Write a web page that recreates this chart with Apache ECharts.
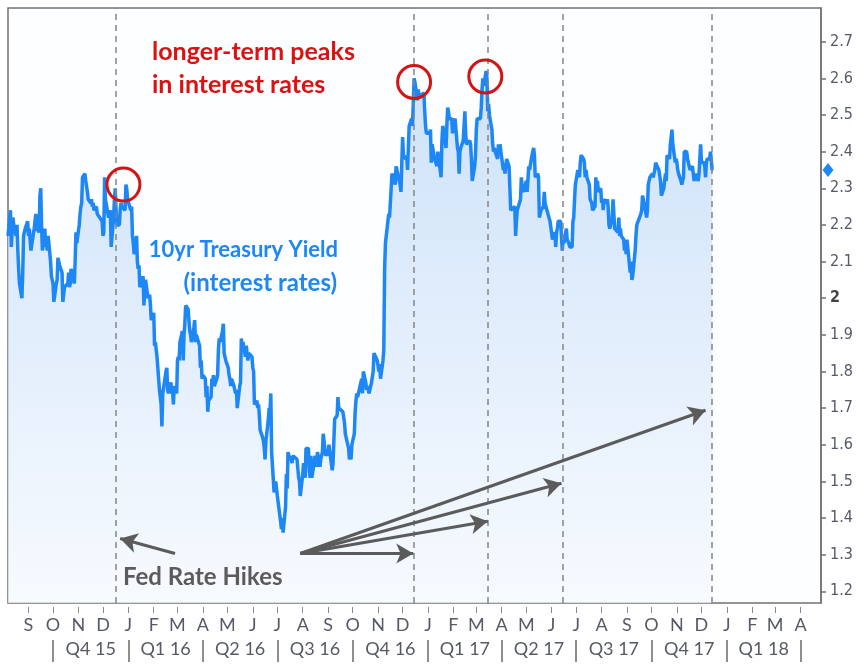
<!DOCTYPE html>
<html>
<head>
<meta charset="utf-8">
<script src="https://cdn.jsdelivr.net/npm/echarts@6/dist/echarts.min.js"></script>
<style>
html, body { margin: 0; padding: 0; background: #fff; }
#main { width: 861px; height: 664px; }
</style>
</head>
<body>
<div id="main"></div>
<script>
// 10yr Treasury yield
var tenYear = [
    ['2015-08-07',2.17],['2015-08-10',2.24],['2015-08-11',2.14],['2015-08-12',2.14],['2015-08-13',2.22],['2015-08-14',2.20],
    ['2015-08-17',2.17],['2015-08-18',2.20],['2015-08-19',2.13],['2015-08-20',2.08],['2015-08-21',2.04],['2015-08-24',2.00],
    ['2015-08-25',2.07],['2015-08-26',2.17],['2015-08-27',2.18],['2015-08-28',2.19],['2015-08-31',2.21],
    ['2015-09-01',2.17],['2015-09-02',2.19],['2015-09-03',2.16],['2015-09-04',2.13],['2015-09-08',2.19],['2015-09-09',2.21],
    ['2015-09-10',2.23],['2015-09-11',2.19],['2015-09-14',2.18],['2015-09-15',2.28],['2015-09-16',2.30],['2015-09-17',2.20],
    ['2015-09-18',2.13],['2015-09-21',2.19],['2015-09-22',2.14],['2015-09-23',2.15],['2015-09-24',2.13],['2015-09-25',2.17],
    ['2015-09-28',2.10],['2015-09-29',2.06],['2015-09-30',2.05],
    ['2015-10-01',2.04],['2015-10-02',1.99],['2015-10-05',2.04],['2015-10-06',2.05],['2015-10-07',2.11],['2015-10-08',2.11],
    ['2015-10-09',2.09],['2015-10-12',2.07],['2015-10-13',1.99],['2015-10-14',1.99],['2015-10-15',2.03],['2015-10-16',2.03],
    ['2015-10-19',2.04],['2015-10-20',2.07],['2015-10-21',2.03],['2015-10-22',2.04],['2015-10-23',2.08],['2015-10-26',2.05],
    ['2015-10-27',2.04],['2015-10-28',2.10],['2015-10-29',2.18],['2015-10-30',2.15],
    ['2015-11-02',2.20],['2015-11-03',2.23],['2015-11-04',2.25],['2015-11-05',2.26],['2015-11-06',2.33],['2015-11-09',2.34],
    ['2015-11-10',2.32],['2015-11-12',2.29],['2015-11-13',2.27],['2015-11-16',2.26],['2015-11-17',2.27],['2015-11-18',2.25],
    ['2015-11-19',2.26],['2015-11-20',2.24],['2015-11-23',2.25],['2015-11-24',2.23],['2015-11-25',2.23],['2015-11-27',2.22],
    ['2015-11-30',2.21],
    ['2015-12-01',2.17],['2015-12-02',2.18],['2015-12-03',2.33],['2015-12-04',2.27],['2015-12-07',2.23],['2015-12-08',2.22],
    ['2015-12-09',2.22],['2015-12-10',2.24],['2015-12-11',2.14],['2015-12-14',2.22],['2015-12-15',2.27],['2015-12-16',2.30],
    ['2015-12-17',2.24],['2015-12-18',2.20],['2015-12-21',2.20],['2015-12-22',2.24],['2015-12-23',2.26],['2015-12-24',2.25],
    ['2015-12-28',2.24],['2015-12-29',2.31],['2015-12-30',2.30],['2015-12-31',2.27],
    ['2016-01-04',2.24],['2016-01-05',2.25],['2016-01-06',2.17],['2016-01-07',2.15],['2016-01-08',2.12],['2016-01-11',2.17],
    ['2016-01-12',2.10],['2016-01-13',2.08],['2016-01-14',2.09],['2016-01-15',2.03],['2016-01-19',2.06],['2016-01-20',1.98],
    ['2016-01-21',2.02],['2016-01-22',2.05],['2016-01-25',2.00],['2016-01-26',2.00],['2016-01-27',2.01],['2016-01-28',1.98],
    ['2016-01-29',1.94],
    ['2016-02-01',1.96],['2016-02-02',1.87],['2016-02-03',1.88],['2016-02-04',1.86],['2016-02-05',1.84],['2016-02-08',1.75],
    ['2016-02-09',1.73],['2016-02-10',1.71],['2016-02-11',1.65],['2016-02-12',1.74],['2016-02-16',1.80],['2016-02-17',1.81],
    ['2016-02-18',1.75],['2016-02-19',1.74],['2016-02-22',1.77],['2016-02-23',1.74],['2016-02-24',1.75],['2016-02-25',1.71],
    ['2016-02-26',1.76],['2016-02-29',1.74],
    ['2016-03-01',1.83],['2016-03-02',1.84],['2016-03-03',1.83],['2016-03-04',1.88],['2016-03-07',1.91],['2016-03-08',1.83],
    ['2016-03-09',1.90],['2016-03-10',1.93],['2016-03-11',1.98],['2016-03-14',1.97],['2016-03-15',1.97],['2016-03-16',1.91],
    ['2016-03-17',1.90],['2016-03-18',1.88],['2016-03-21',1.92],['2016-03-22',1.94],['2016-03-23',1.88],['2016-03-24',1.90],
    ['2016-03-28',1.87],['2016-03-29',1.81],['2016-03-30',1.83],['2016-03-31',1.78],
    ['2016-04-01',1.79],['2016-04-04',1.78],['2016-04-05',1.73],['2016-04-06',1.76],['2016-04-07',1.69],['2016-04-08',1.72],
    ['2016-04-11',1.73],['2016-04-12',1.78],['2016-04-13',1.77],['2016-04-14',1.79],['2016-04-15',1.76],['2016-04-18',1.78],
    ['2016-04-19',1.79],['2016-04-20',1.86],['2016-04-21',1.89],['2016-04-22',1.88],['2016-04-25',1.91],['2016-04-26',1.93],
    ['2016-04-27',1.85],['2016-04-28',1.84],['2016-04-29',1.83],
    ['2016-05-02',1.81],['2016-05-03',1.79],['2016-05-04',1.78],['2016-05-05',1.76],['2016-05-06',1.78],['2016-05-09',1.76],
    ['2016-05-10',1.76],['2016-05-11',1.74],['2016-05-12',1.75],['2016-05-13',1.70],['2016-05-16',1.76],['2016-05-17',1.77],
    ['2016-05-18',1.89],['2016-05-19',1.86],['2016-05-20',1.88],['2016-05-23',1.84],['2016-05-24',1.87],['2016-05-25',1.87],
    ['2016-05-26',1.83],['2016-05-27',1.85],['2016-05-31',1.84],
    ['2016-06-01',1.81],['2016-06-02',1.80],['2016-06-03',1.71],['2016-06-06',1.72],['2016-06-07',1.70],['2016-06-08',1.71],
    ['2016-06-09',1.68],['2016-06-10',1.64],['2016-06-13',1.62],['2016-06-14',1.61],['2016-06-15',1.59],['2016-06-16',1.56],
    ['2016-06-17',1.61],['2016-06-20',1.67],['2016-06-21',1.70],['2016-06-22',1.69],['2016-06-23',1.74],['2016-06-24',1.58],
    ['2016-06-27',1.47],['2016-06-28',1.48],['2016-06-29',1.50],['2016-06-30',1.48],
    ['2016-07-01',1.46],['2016-07-05',1.39],['2016-07-06',1.37],['2016-07-07',1.40],['2016-07-08',1.36],['2016-07-11',1.43],
    ['2016-07-12',1.52],['2016-07-13',1.48],['2016-07-14',1.58],['2016-07-15',1.57],['2016-07-18',1.56],['2016-07-19',1.55],
    ['2016-07-20',1.57],['2016-07-21',1.57],['2016-07-22',1.57],['2016-07-25',1.56],['2016-07-26',1.56],['2016-07-27',1.51],
    ['2016-07-28',1.50],['2016-07-29',1.46],
    ['2016-08-01',1.52],['2016-08-02',1.55],['2016-08-03',1.55],['2016-08-04',1.51],['2016-08-05',1.59],['2016-08-08',1.59],
    ['2016-08-09',1.53],['2016-08-10',1.51],['2016-08-11',1.57],['2016-08-12',1.51],['2016-08-15',1.55],['2016-08-16',1.57],
    ['2016-08-17',1.55],['2016-08-18',1.54],['2016-08-19',1.58],['2016-08-22',1.54],['2016-08-23',1.56],['2016-08-24',1.57],
    ['2016-08-25',1.58],['2016-08-26',1.63],['2016-08-29',1.57],['2016-08-30',1.57],['2016-08-31',1.58],
    ['2016-09-01',1.57],['2016-09-02',1.60],['2016-09-06',1.53],['2016-09-07',1.55],['2016-09-08',1.61],['2016-09-09',1.67],
    ['2016-09-12',1.68],['2016-09-13',1.73],['2016-09-14',1.70],['2016-09-15',1.70],['2016-09-16',1.70],['2016-09-19',1.69],
    ['2016-09-20',1.69],['2016-09-21',1.66],['2016-09-22',1.63],['2016-09-23',1.62],['2016-09-26',1.59],['2016-09-27',1.56],
    ['2016-09-28',1.57],['2016-09-29',1.56],['2016-09-30',1.60],
    ['2016-10-03',1.63],['2016-10-04',1.69],['2016-10-05',1.72],['2016-10-06',1.74],['2016-10-07',1.73],['2016-10-10',1.76],
    ['2016-10-11',1.77],['2016-10-12',1.78],['2016-10-13',1.74],['2016-10-14',1.80],['2016-10-17',1.77],['2016-10-18',1.75],
    ['2016-10-19',1.76],['2016-10-20',1.76],['2016-10-21',1.74],['2016-10-24',1.77],['2016-10-25',1.77],['2016-10-26',1.80],
    ['2016-10-27',1.85],['2016-10-28',1.85],['2016-10-31',1.83],
    ['2016-11-01',1.83],['2016-11-02',1.80],['2016-11-03',1.82],['2016-11-04',1.78],['2016-11-07',1.83],['2016-11-08',1.86],
    ['2016-11-09',2.08],['2016-11-10',2.15],['2016-11-11',2.15],['2016-11-14',2.23],['2016-11-15',2.22],['2016-11-16',2.22],
    ['2016-11-17',2.30],['2016-11-18',2.34],['2016-11-21',2.32],['2016-11-22',2.31],['2016-11-23',2.36],['2016-11-25',2.36],
    ['2016-11-28',2.31],['2016-11-29',2.29],['2016-11-30',2.37],
    ['2016-12-01',2.44],['2016-12-02',2.39],['2016-12-05',2.38],['2016-12-06',2.39],['2016-12-07',2.35],['2016-12-08',2.41],
    ['2016-12-09',2.47],['2016-12-12',2.49],['2016-12-13',2.47],['2016-12-14',2.53],['2016-12-15',2.60],['2016-12-16',2.59],
    ['2016-12-19',2.54],['2016-12-20',2.57],['2016-12-21',2.55],['2016-12-22',2.55],['2016-12-23',2.55],['2016-12-27',2.56],
    ['2016-12-28',2.51],['2016-12-29',2.47],['2016-12-30',2.45],
    ['2017-01-03',2.45],['2017-01-04',2.46],['2017-01-05',2.37],['2017-01-06',2.42],['2017-01-09',2.38],['2017-01-10',2.38],
    ['2017-01-11',2.38],['2017-01-12',2.36],['2017-01-13',2.40],['2017-01-17',2.33],['2017-01-18',2.43],['2017-01-19',2.47],
    ['2017-01-20',2.46],['2017-01-23',2.41],['2017-01-24',2.47],['2017-01-25',2.52],['2017-01-26',2.51],['2017-01-27',2.49],
    ['2017-01-30',2.49],['2017-01-31',2.45],
    ['2017-02-01',2.48],['2017-02-02',2.48],['2017-02-03',2.49],['2017-02-06',2.41],['2017-02-07',2.40],['2017-02-08',2.34],
    ['2017-02-09',2.40],['2017-02-10',2.41],['2017-02-13',2.43],['2017-02-14',2.47],['2017-02-15',2.51],['2017-02-16',2.45],
    ['2017-02-17',2.42],['2017-02-21',2.43],['2017-02-22',2.42],['2017-02-23',2.38],['2017-02-24',2.32],['2017-02-27',2.36],
    ['2017-02-28',2.39],
    ['2017-03-01',2.46],['2017-03-02',2.49],['2017-03-03',2.49],['2017-03-06',2.49],['2017-03-07',2.52],['2017-03-08',2.57],
    ['2017-03-09',2.60],['2017-03-10',2.58],['2017-03-13',2.62],['2017-03-14',2.60],['2017-03-15',2.51],['2017-03-16',2.53],
    ['2017-03-17',2.50],['2017-03-20',2.46],['2017-03-21',2.42],['2017-03-22',2.40],['2017-03-23',2.41],['2017-03-24',2.40],
    ['2017-03-27',2.38],['2017-03-28',2.42],['2017-03-29',2.39],['2017-03-30',2.42],['2017-03-31',2.40],
    ['2017-04-03',2.35],['2017-04-04',2.36],['2017-04-05',2.34],['2017-04-06',2.36],['2017-04-07',2.38],['2017-04-10',2.36],
    ['2017-04-11',2.30],['2017-04-12',2.24],['2017-04-13',2.24],['2017-04-17',2.25],['2017-04-18',2.17],['2017-04-19',2.21],
    ['2017-04-20',2.24],['2017-04-21',2.24],['2017-04-24',2.27],['2017-04-25',2.33],['2017-04-26',2.30],['2017-04-27',2.30],
    ['2017-04-28',2.29],
    ['2017-05-01',2.32],['2017-05-02',2.29],['2017-05-03',2.32],['2017-05-04',2.36],['2017-05-05',2.35],['2017-05-08',2.39],
    ['2017-05-09',2.40],['2017-05-10',2.41],['2017-05-11',2.39],['2017-05-12',2.33],['2017-05-15',2.34],['2017-05-16',2.33],
    ['2017-05-17',2.22],['2017-05-18',2.23],['2017-05-19',2.24],['2017-05-22',2.25],['2017-05-23',2.29],['2017-05-24',2.26],
    ['2017-05-25',2.25],['2017-05-26',2.25],['2017-05-30',2.21],['2017-05-31',2.21],
    ['2017-06-01',2.21],['2017-06-02',2.16],['2017-06-05',2.18],['2017-06-06',2.14],['2017-06-07',2.18],['2017-06-08',2.19],
    ['2017-06-09',2.21],['2017-06-12',2.21],['2017-06-13',2.21],['2017-06-14',2.13],['2017-06-15',2.16],['2017-06-16',2.15],
    ['2017-06-19',2.19],['2017-06-20',2.16],['2017-06-21',2.16],['2017-06-22',2.15],['2017-06-23',2.14],['2017-06-26',2.14],
    ['2017-06-27',2.21],['2017-06-28',2.22],['2017-06-29',2.27],['2017-06-30',2.31],
    ['2017-07-03',2.35],['2017-07-05',2.33],['2017-07-06',2.37],['2017-07-07',2.39],['2017-07-10',2.38],['2017-07-11',2.37],
    ['2017-07-12',2.33],['2017-07-13',2.35],['2017-07-14',2.33],['2017-07-17',2.31],['2017-07-18',2.27],['2017-07-19',2.27],
    ['2017-07-20',2.26],['2017-07-21',2.24],['2017-07-24',2.25],['2017-07-25',2.33],['2017-07-26',2.29],['2017-07-27',2.32],
    ['2017-07-28',2.29],['2017-07-31',2.30],
    ['2017-08-01',2.26],['2017-08-02',2.27],['2017-08-03',2.24],['2017-08-04',2.27],['2017-08-07',2.26],['2017-08-08',2.27],
    ['2017-08-09',2.25],['2017-08-10',2.20],['2017-08-11',2.19],['2017-08-14',2.22],['2017-08-15',2.27],['2017-08-16',2.23],
    ['2017-08-17',2.19],['2017-08-18',2.19],['2017-08-21',2.18],['2017-08-22',2.22],['2017-08-23',2.17],['2017-08-24',2.19],
    ['2017-08-25',2.17],['2017-08-28',2.16],['2017-08-29',2.13],['2017-08-30',2.15],['2017-08-31',2.12],
    ['2017-09-01',2.16],['2017-09-05',2.07],['2017-09-06',2.10],['2017-09-07',2.05],['2017-09-08',2.06],['2017-09-11',2.13],
    ['2017-09-12',2.17],['2017-09-13',2.20],['2017-09-14',2.20],['2017-09-15',2.20],['2017-09-18',2.23],['2017-09-19',2.24],
    ['2017-09-20',2.28],['2017-09-21',2.27],['2017-09-22',2.26],['2017-09-25',2.22],['2017-09-26',2.24],['2017-09-27',2.31],
    ['2017-09-28',2.31],['2017-09-29',2.33],
    ['2017-10-02',2.34],['2017-10-03',2.33],['2017-10-04',2.33],['2017-10-05',2.35],['2017-10-06',2.37],['2017-10-10',2.35],
    ['2017-10-11',2.35],['2017-10-12',2.32],['2017-10-13',2.28],['2017-10-16',2.30],['2017-10-17',2.30],['2017-10-18',2.34],
    ['2017-10-19',2.32],['2017-10-20',2.39],['2017-10-23',2.38],['2017-10-24',2.42],['2017-10-25',2.44],['2017-10-26',2.46],
    ['2017-10-27',2.42],['2017-10-30',2.37],['2017-10-31',2.38],
    ['2017-11-01',2.37],['2017-11-02',2.35],['2017-11-03',2.34],['2017-11-06',2.32],['2017-11-07',2.31],['2017-11-08',2.32],
    ['2017-11-09',2.33],['2017-11-10',2.40],['2017-11-13',2.40],['2017-11-14',2.38],['2017-11-15',2.37],['2017-11-16',2.37],
    ['2017-11-17',2.35],['2017-11-20',2.36],['2017-11-21',2.36],['2017-11-22',2.32],['2017-11-24',2.34],['2017-11-27',2.32],
    ['2017-11-28',2.34],['2017-11-29',2.38],['2017-11-30',2.42],
    ['2017-12-01',2.37],['2017-12-04',2.37],['2017-12-05',2.36],['2017-12-06',2.33],['2017-12-07',2.37],['2017-12-08',2.38],
    ['2017-12-11',2.38],['2017-12-12',2.40],['2017-12-13',2.38],['2017-12-14',2.35],['2017-12-15',2.35]
];

var hikeDates = ['2015-12-16', '2016-12-14', '2017-03-15', '2017-06-14', '2017-12-13'];
var peakMarks = [['2015-12-26', 2.31], ['2016-12-15', 2.59], ['2017-03-12', 2.605]];
// arrows: [from, to]
var hikeArrows = [
    [['2016-02-27', 1.303], ['2015-12-22', 1.344]],
    [['2016-07-29', 1.303], ['2016-12-14', 1.303]],
    [['2016-07-29', 1.303], ['2017-03-15', 1.391]],
    [['2016-07-29', 1.303], ['2017-06-13', 1.495]],
    [['2016-07-29', 1.303], ['2017-12-06', 1.694]]
];
var monthLetters = ('SOND' + 'JFMAMJJASOND' + 'JFMAMJJASOND' + 'JFMA').split('');
var quarterLabels = ['Q4 15', 'Q1 16', 'Q2 16', 'Q3 16', 'Q4 16', 'Q1 17', 'Q2 17', 'Q3 17', 'Q4 17', 'Q1 18'];
var yTicks = [1.2, 1.3, 1.4, 1.5, 1.6, 1.7, 1.8, 1.9, 2.0, 2.1, 2.2, 2.3, 2.4, 2.5, 2.6, 2.7];

function ts(y, m, d) {
    return new Date(y, m, d || 1).getTime();
}
var xMin = ts(2015, 7, 7), xMax = ts(2018, 3, 26);
var monthTicks = monthLetters.map(function (l, i) { return ts(2015, 8 + i, 1); });
var quarterStarts = [];
for (var i = 0; i <= quarterLabels.length; i++) {
    quarterStarts.push(ts(2015, 9 + 3 * i, 1));
}
var quarterMids = quarterLabels.map(function (q, i) {
    return (quarterStarts[i] + quarterStarts[i + 1]) / 2;
});
function nearest(arr, v) {
    var best = 0;
    arr.forEach(function (a, i) {
        if (Math.abs(a - v) < Math.abs(arr[best] - v)) best = i;
    });
    return best;
}
var lastYield = tenYear[tenYear.length - 1][1];

var labelFont = 'Lato';
function note(text, x, y, color, size, align) {
    return {
        type: 'text', x: x, y: y, z: 100,
        style: {
            text: text, fill: color, fontFamily: 'Lato', fontWeight: 'bold', fontSize: size,
            align: align, verticalAlign: 'middle'
        }
    };
}

var myChart = echarts.init(document.getElementById('main'));
var option = {
    animation: false,
    backgroundColor: '#ffffff',
    grid: {
        left: 8, top: 8, right: 40, bottom: 61,
        show: true,
        borderColor: '#727272',
        borderWidth: 1.5,
        backgroundColor: '#fdfeff'
    },
    xAxis: [{
        type: 'time',
        min: xMin,
        max: xMax,
        axisLine: { show: false },
        axisTick: { show: false },
        axisLabel: { show: false },
        splitLine: { show: false }
    }, {
        // month letters
        type: 'value',
        min: xMin,
        max: xMax,
        position: 'bottom',
        offset: 4,
        axisLine: { show: false },
        axisTick: { show: true, customValues: monthTicks, length: 6, lineStyle: { color: '#8a8a8a', width: 1 } },
        axisLabel: {
            customValues: monthTicks,
            margin: 9,
            color: '#555a66',
            fontFamily: labelFont,
            fontSize: 18,
            formatter: function (v) { return monthLetters[nearest(monthTicks, v)]; }
        },
        splitLine: { show: false }
    }, {
        // quarters
        type: 'value',
        min: xMin,
        max: xMax,
        position: 'bottom',
        offset: 37,
        axisLine: { show: false },
        axisTick: { show: true, customValues: quarterStarts, length: 22, lineStyle: { color: '#6a6a6a', width: 1.5 } },
        axisLabel: {
            customValues: quarterMids,
            margin: 0,
            color: '#555a66',
            fontFamily: labelFont,
            fontSize: 18,
            formatter: function (v) { return quarterLabels[nearest(quarterMids, v)]; }
        },
        splitLine: { show: false }
    }],
    yAxis: {
        type: 'value',
        position: 'right',
        min: 1.168,
        max: 2.792,
        axisLine: { show: true, lineStyle: { color: '#727272', width: 1.5 } },
        axisTick: { show: true, customValues: yTicks, length: 5, lineStyle: { color: '#727272', width: 1.5 } },
        axisLabel: {
            customValues: yTicks,
            margin: 9,
            color: '#555a66',
            fontFamily: 'DejaVu Sans Condensed, Liberation Sans',
            fontSize: 16,
            formatter: function (v) {
                return Math.abs(v - 2) < 1e-9 ? '{b|2}' : v.toFixed(1);
            },
            rich: {
                b: { fontWeight: 'bold', color: '#444', fontSize: 16, fontFamily: 'DejaVu Sans Condensed, Liberation Sans' }
            }
        },
        splitLine: { show: false }
    },
    series: [{
        name: 'hikes',
        type: 'line',
        data: [],
        markLine: {
            silent: true,
            symbol: 'none',
            label: { show: false },
            lineStyle: { color: '#858585', type: [6, 5], width: 1.5 },
            data: hikeDates.map(function (d) { return { xAxis: d }; })
        }
    }, {
        name: '10yr Treasury Yield',
        type: 'line',
        data: tenYear,
        showSymbol: false,
        symbol: 'none',
        lineStyle: { color: '#1c87f5', width: 3.5 },
        areaStyle: {
            color: new echarts.graphic.LinearGradient(0, 0, 0, 1, [
                { offset: 0, color: '#b9d6f6' },
                { offset: 1, color: '#f5f9ff' }
            ])
        },
        markPoint: {
            silent: true,
            symbol: 'diamond',
            symbolSize: [11, 14],
            symbolOffset: [7, 0],
            itemStyle: { color: '#1c87f5' },
            label: { show: false },
            data: [{ coord: [xMax, lastYield] }]
        }
    }, {
        name: 'notes',
        type: 'line',
        data: [],
        markLine: {
            silent: true,
            symbol: ['none', 'arrow'],
            symbolSize: [15, 17],
            label: { show: false },
            lineStyle: { color: '#5b5b5b', type: 'solid', width: 3 },
            data: hikeArrows.map(function (a) { return [{ coord: a[0] }, { coord: a[1] }]; })
        },
        markPoint: {
            silent: true,
            symbol: 'circle',
            symbolSize: 33,
            itemStyle: { color: 'rgba(0,0,0,0)', borderColor: '#d21414', borderWidth: 3 },
            label: { show: false },
            data: peakMarks.map(function (p) { return { coord: p }; })
        }
    }],
    graphic: [
        note('longer-term peaks', 152, 52, '#dc1212', 25, 'left'),
        note('in interest rates', 152, 85, '#dc1212', 25, 'left'),
        note('10yr Treasury Yield', 338, 250, '#1c87f5', 22, 'right'),
        note('(interest rates)', 337, 283, '#1c87f5', 24, 'right'),
        note('Fed Rate Hikes', 123, 577, '#5b5b5b', 24, 'left')
    ]
};
myChart.setOption(option);
</script>
</body>
</html>
